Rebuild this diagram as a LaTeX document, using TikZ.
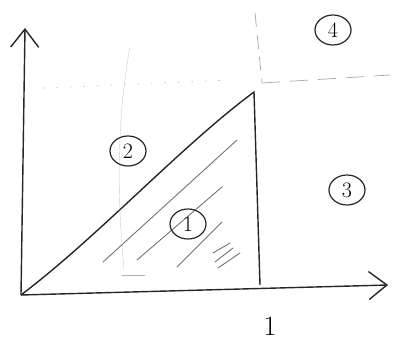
\documentclass[tikz,border=0pt]{standalone}
\usepackage{tikz}
\usetikzlibrary{arrows.meta,shapes.geometric}

\begin{document}
\begin{tikzpicture}[x=1pt,y=1pt,
  pen/.style={line width=1.4pt,draw=black!85},
  faint/.style={line width=0.7pt,draw=black!35},
  hatch/.style={line width=0.9pt,draw=black!55,line cap=round},
  region/.style={ellipse,draw=black!85,line width=1.2pt,inner sep=0pt,
    minimum width=36pt,minimum height=30pt,font=\fontsize{22}{22}\selectfont},
  axis/.style={pen,-{Straight Barb[length=18pt,width=28pt,line width=1.4pt]}}]
  \useasboundingbox (0,0) rectangle (396,343);
  % corners of the triangle and ends of the axes
  \coordinate (O) at (21,48);
  \coordinate (ytip) at (25,315);
  \coordinate (xtip) at (388,58);
  \coordinate (F) at (260,58);
  \coordinate (T) at (254,251);
  \draw[axis] (O) -- (ytip);
  \draw[axis] (O) -- (xtip);
  \draw[pen] (O) .. controls (100,108) and (180,196) .. (T) -- (F);
  % dashed borders of region 4
  \coordinate (dtop) at (255,330);
  \coordinate (dcorner) at (262,260);
  \coordinate (dright) at (390,268);
  \draw[faint,dash pattern=on 14pt off 8pt] (dtop) -- (dcorner);
  \draw[faint,dash pattern=on 18pt off 10pt] (dcorner) -- (dright);
  \draw[faint,black!25,dash pattern=on 1.5pt off 12pt] (43,255) -- (230,263);
  % pencil guide
  \draw[faint,black!20,line width=0.4pt] (130,296) .. controls (118,230) and (116,160) .. (124,73);
  \draw[faint,black!30] (122,68) -- (145,68);
  % hatching in region 1
  \foreach \a/\b in {{(103,81)}/{(237,203)},{(137,83)}/{(222,156)},{(177,76)}/{(222,121)}}
    \draw[hatch] \a -- \b;
  \foreach \a/\b in {{(213,90)}/{(230,100)},{(215,81)}/{(233,95)},{(218,75)}/{(240,90)}}
    \draw[hatch] \a -- \b;
  % region labels
  \node[region] (r1) at (188,119) {1};
  \node[region] (r2) at (128,192) {2};
  \node[region] (r3) at (347,153) {3};
  \node[region] (r4) at (333,313) {4};
  \node[font=\fontsize{28}{28}\selectfont] (one) at (270,17) {1};
\end{tikzpicture}
\end{document}
